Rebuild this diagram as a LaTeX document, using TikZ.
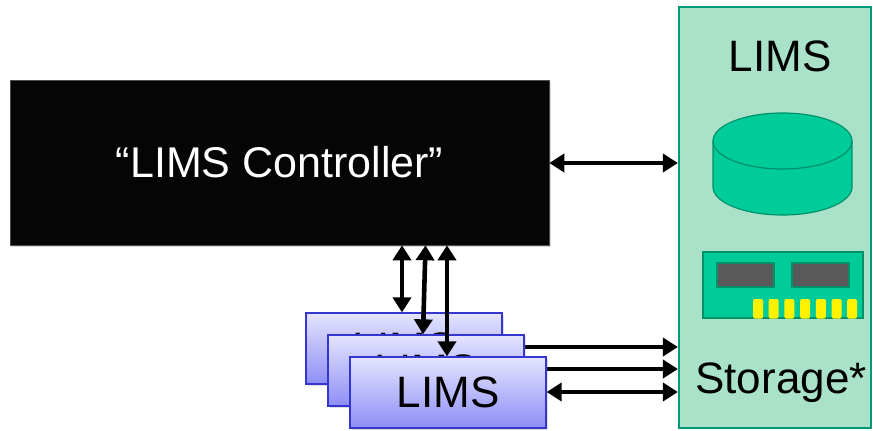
\documentclass[tikz,border=0pt]{standalone}
\usepackage{fontspec}
\setmainfont{Liberation Sans}
\usetikzlibrary{arrows.meta,shadows}
\definecolor{boxgreen}{HTML}{A9E2C9}
\definecolor{edgegreen}{HTML}{00997A}
\definecolor{diskgreen}{HTML}{00CC99}
\definecolor{darkgreen}{HTML}{00906A}
\definecolor{chipgray}{HTML}{595959}
\definecolor{limsblue}{HTML}{3535D0}
\definecolor{limstop}{HTML}{E4E4FF}
\definecolor{limsbot}{HTML}{8E8EF6}
\tikzset{
  bigtext/.style={font=\fontsize{44}{50}\selectfont},
  conn/.style={line width=4.6pt,-{Triangle[length=15pt,width=18pt]}},
  dconn/.style={line width=4.6pt,{Triangle[length=15pt,width=18pt]}-{Triangle[length=15pt,width=18pt]}},
  limsbox/.style={draw=limsblue,line width=1.3pt,top color=limstop,bottom color=limsbot,
    minimum width=196pt,minimum height=71pt,inner sep=0pt,bigtext,
    drop shadow={shadow xshift=1.5pt,shadow yshift=-1.5pt,opacity=0.25}},
}
\begin{document}
\begin{tikzpicture}[x=1pt,y=-1pt]
\useasboundingbox (0,0) rectangle (873,431);
% controller
\node[fill=black!98,draw=black!70,line width=0.6pt,minimum width=539pt,minimum height=165pt,inner sep=0pt,
  drop shadow={shadow xshift=2pt,shadow yshift=-2pt,opacity=0.3},
  text=white,font=\fontsize{43}{50}\selectfont] (ctrl) at (279.5,162.5) {“LIMS Controller”};
% green LIMS storage box
\node[fill=boxgreen,draw=edgegreen,line width=2.2pt,minimum width=192pt,minimum height=421pt,inner sep=0pt] (store) at (775,217.5) {};
\node[bigtext] (limst) at (780,56.5) {LIMS};
\node[bigtext,anchor=base] (stor) at (781,393) {Storage*};
% disk
\draw[fill=diskgreen,draw=darkgreen,line width=1.2pt] (713,141) -- (713,187) arc[start angle=180,end angle=0,x radius=69.5,y radius=28] -- (852,141);
\draw[fill=diskgreen,draw=darkgreen,line width=1.2pt] (782.5,141) ellipse[x radius=69.5,y radius=28];
% board
\node[fill=diskgreen,draw=darkgreen,line width=1.2pt,minimum width=160pt,minimum height=66pt,inner sep=0pt] (board) at (783,285) {};
\node[fill=chipgray,draw=darkgreen,line width=2pt,minimum width=57pt,minimum height=24pt,inner sep=0pt] (chipa) at (745.5,275) {};
\node[fill=chipgray,draw=darkgreen,line width=2pt,minimum width=57pt,minimum height=24pt,inner sep=0pt] (chipb) at (820.5,275) {};
\foreach \i in {0,...,6}{
  \fill[yellow,rounded corners=1.5pt] (753+\i*15.7,299) rectangle ++(10,19.5);
}
% LIMS stack
\node[limsbox] (l1) at (404,348.5) {LIMS};
\draw[conn] (l1.east |- 0,347) -- (store.west |- 0,347);
\node[limsbox] (l2) at (426,370.5) {LIMS};
\draw[conn] (l2.east |- 0,369) -- (store.west |- 0,369);
\node[limsbox] (l3) at (448,392.5) {LIMS};
\draw[dconn] (l3.east |- 0,392) -- (store.west |- 0,392);
% controller links
\draw[dconn] (ctrl.east |- 0,163) -- (store.west |- 0,163);
\draw[dconn] (ctrl.south -| 402,0) -- (l1.north -| 402,0);
\draw[dconn] (ctrl.south -| 425.5,0) -- (l2.north -| 423,0);
\draw[dconn] (ctrl.south -| 447,0) -- (l3.north -| 447,0);
\end{tikzpicture}
\end{document}
